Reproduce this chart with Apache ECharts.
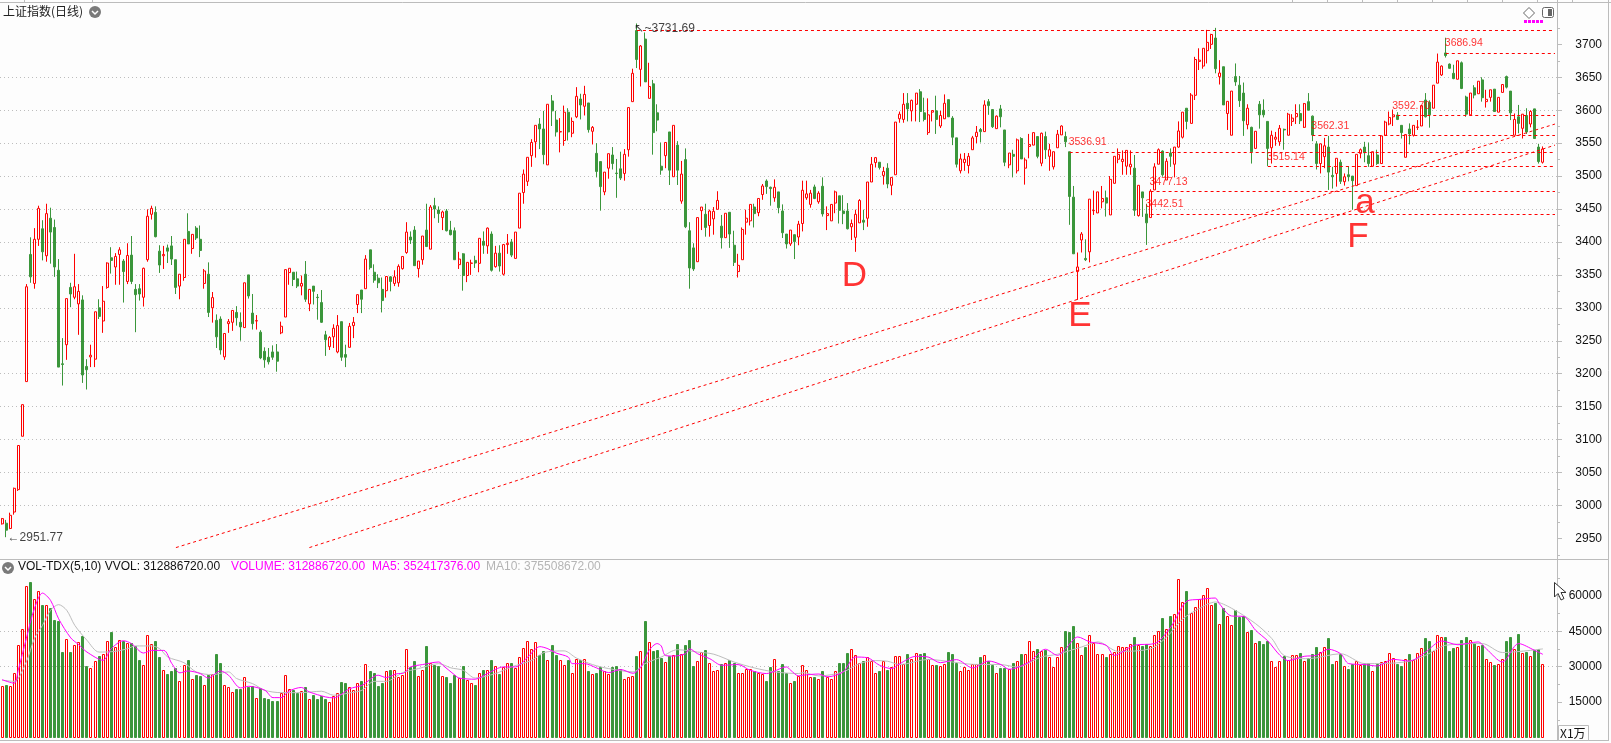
<!DOCTYPE html>
<html>
<head>
<meta charset="utf-8">
<title>上证指数(日线)</title>
<script src="https://cdn.jsdelivr.net/npm/echarts@6/dist/echarts.min.js"></script>
<style>
html,body{margin:0;padding:0;background:#fdfdfd;}
#chart{width:1611px;height:743px;}
</style>
</head>
<body>
<div id="chart"></div>
<script>
// Daily candles as [open, close, low, high]
const candles = [
[2972,2980,2971,2981],[2973,2962.5,2951.77,2978],[2965,2985,2964,2989],[2990,3026,2986,3027],[3024,3091,3022,3091],
[3105,3153,3105,3153],[3188,3332,3188,3336],[3381,3347,3338,3407],[3337,3404,3329,3421],[3404,3451,3394,3455],
[3420,3385,3372,3433],[3379,3443,3370,3458],[3436,3415,3367,3452],[3422,3362,3347,3434],[3357,3210,3210,3374],
[3215,3214,3182,3254],[3244,3314,3221,3314],[3331,3321,3301,3338],[3316,3332,3313,3382],[3306,3325,3259,3336],
[3312,3198,3186,3319],[3211,3206,3176,3222],[3225.5,3228,3210,3244],[3222,3294,3210,3294],[3300,3287,3283,3313],
[3280,3310,3262,3333],[3331,3368,3329,3369],[3376,3372,3352,3392],[3362,3378,3335,3383],[3381,3388,3335,3392],
[3371,3355,3308,3374],[3340,3379.5,3336,3398],[3380,3340,3336,3409],[3328,3320,3263,3336],[3329,3321,3311,3336],
[3316,3360,3302,3361],[3373,3439,3370,3449.5],[3442,3451,3434,3455],[3445,3408,3407,3454],[3386,3365,3353,3395],
[3379,3381,3359,3394],[3391,3386,3368,3396],[3394,3374,3365,3409],[3373,3331,3321,3373],[3333,3351,3313,3351],
[3346,3404,3341,3404],[3416,3397,3397,3443.5],[3390,3411.5,3382,3412],[3421,3406,3403,3424],[3404,3387,3377,3425],
[3337,3356,3329,3359],[3351,3293,3286,3369],[3300,3315.5,3277.5,3324],[3281,3256,3239,3290],[3283,3236,3229,3287],
[3225.5,3261,3221,3261],[3276,3279,3262,3283],[3278,3296,3265,3296],[3293,3285,3273,3302.5],[3278,3271,3250,3293],
[3270,3338,3270,3338],[3350,3318,3314,3350],[3292,3276,3267,3321],[3280,3280.5,3267,3289],[3263,3224,3222,3266],
[3234,3221,3209,3240],[3225,3218,3214,3239],[3233,3225,3221,3243],[3233,3219,3203,3245],[3262,3272,3260,3279],
[3286,3358,3286,3358],[3353.5,3360,3335,3360],[3354,3343,3333,3354],[3344,3333,3330,3355],[3333,3337,3319,3349],
[3351,3313,3309,3371],[3306,3328,3295,3328],[3333,3325,3305,3333],[3316,3315.5,3282,3321],[3308,3278,3277,3327],
[3259,3251.5,3227,3265],[3241,3255,3236,3257],[3256,3269,3239,3275],[3233,3273,3231,3289],[3279,3225,3219.5,3279],
[3229,3225,3210,3244],[3240,3272,3240,3277],[3273,3278,3254,3286],[3305,3320,3292,3320],[3327,3313,3292,3327],
[3329,3374,3329,3380],[3388,3361,3358,3388],[3354,3342,3338,3366],[3345,3338,3330,3351],[3328,3311,3293,3346],
[3326,3347.5,3315.5,3348],[3347,3340,3325,3348],[3337,3347,3333,3357],[3338,3363,3332,3366],
// second stretch
[3359.5,3378,3358,3378],[3384,3415,3382,3430],[3407.5,3403,3397,3416],[3418,3364,3364,3424],[3359.5,3371,3346,3371],
[3373,3409,3365.5,3409],[3418,3393,3393,3458],[3389,3453,3389,3456],[3455,3450,3436,3467],[3448.5,3443,3429,3454],
[3437,3445.5,3418,3447.5],[3447,3417,3416,3450],[3418,3411,3410,3432],[3417,3373,3373,3422],[3365.5,3374,3359,3385],
[3382,3349,3326,3383],[3349,3369,3339,3369],[3367.5,3368,3350,3373],[3372,3368,3360.5,3379],[3367.5,3405.5,3354,3405.5],
[3401,3395,3382,3416],[3394,3421,3382,3422],[3412,3357,3355,3416],[3362.5,3383,3361,3394],[3383,3363.5,3355,3395],
[3351,3396,3349,3397],[3396,3398,3382,3412],[3400,3380,3377,3404.5],[3375,3415,3375,3415],[3421,3474,3421,3474],
[3475,3503,3458,3510],[3492,3528.5,3485,3528.5],[3531,3551,3514,3556],[3552,3577,3528,3577],[3579,3571.5,3541,3588],
[3571.5,3532.5,3518,3599],[3517,3609,3517,3609],[3614,3599,3576,3623],[3585,3567,3560,3599],[3567,3567.5,3536,3588],
[3554,3597,3546,3607],[3597,3567,3554,3603],[3565,3583,3559,3589],[3590,3621,3588,3635],[3617,3608,3586,3625],
[3606,3624,3592,3637],[3611,3570.5,3566,3611],[3568,3574,3548,3576],[3534.5,3507,3498,3550],[3522,3484,3447.5,3522],
[3476,3506,3471,3506],[3512,3534,3496,3534],[3532,3519,3510,3544],[3504.5,3504,3467,3526],[3511,3497,3494,3537],
[3504,3533,3493,3541],[3540,3604,3529.5,3604],[3613,3656,3613,3663],[3721,3677,3664,3731.69],[3662,3697.5,3636,3699],
[3708,3643,3643,3718],[3618,3636,3618,3672],[3640,3566,3532.5,3646],[3596,3585,3568,3609],[3515,3509,3502,3551],
[3531,3551,3512,3551],[3567,3509,3486.5,3567],[3499,3577,3499,3577],[3547,3509,3486.5,3553],[3462,3503,3458,3523],
[3525,3423,3421,3542],[3417,3360.5,3329,3430],[3391,3359,3356,3398],[3370,3437,3370,3437],[3447.5,3453,3418,3453],
[3442,3422,3408,3458],[3425,3447,3408,3449],[3435,3446.5,3411,3453],[3449.5,3463,3449.5,3477],[3424,3406.5,3390,3441],
[3406.5,3443.5,3406.5,3443.5],[3445,3412,3391,3445],[3395,3369,3363.5,3417],[3355,3364.5,3346,3382],[3373,3419,3373,3422],
[3430,3436,3411,3449],[3432,3457,3425,3457],[3453,3443,3422,3458],[3444.5,3466,3439,3466],[3472,3485,3464,3488],
[3492.5,3484,3473,3495],[3483,3481,3455,3484],[3467,3483,3461,3495],[3476,3452,3443.5,3476],[3447,3414,3406,3457],
[3412,3397,3390,3412],[3397,3418,3394,3418],[3411,3400.5,3374,3411],[3407.5,3427,3395,3432],
// third stretch
[3428,3478.5,3416,3493],[3467,3473,3464,3493],[3457,3474,3452,3479],[3483.5,3466,3465,3487],[3461,3474,3458,3477],
[3484.5,3442.5,3438.5,3498],[3440,3443,3418,3454],[3432,3457,3432,3457],[3459,3476,3443.6,3478],[3470,3448,3428,3470],
[3447,3443,3427,3471],[3447,3420,3419,3459],[3423,3428,3403,3434],[3407,3442,3385,3449],[3429,3463,3429,3465],
[3433,3430,3418,3449],[3436,3491,3423,3491],[3491,3518,3491,3529],[3520.5,3528,3513,3529],[3521,3513,3510,3521],
[3501,3507,3487,3514],[3512,3488,3481.5,3519.5],[3486,3498,3471,3498],[3502,3582,3502,3582],[3587,3594,3581,3598],
[3586,3609,3581,3626],[3610.5,3602,3583,3626],[3599,3615,3583,3616],[3609,3626,3583,3626],[3628,3598,3582,3632],
[3596,3586,3583,3619],[3566,3593,3562.5,3618],[3597,3599.5,3583,3599.5],[3599,3586,3564,3622],[3576,3592,3573,3599],
[3587,3610.5,3587,3624],[3616,3590,3590,3616],[3588,3559,3547,3591],[3558,3518,3513,3558],[3508,3526,3504,3534],
[3520.5,3525.5,3508,3535],[3516,3530,3504,3535],[3540,3558,3540,3561],[3560,3566.5,3550,3576],[3570.6,3567.5,3551,3573],
[3567.5,3608,3567.5,3615],[3613,3607,3593,3617],[3601,3575,3573,3601],[3572,3591,3572,3592],[3602,3590,3574,3608],
[3570,3521,3515,3570],[3517,3535,3512,3535],[3533,3530,3498,3540],[3508,3555,3504,3557],[3557,3526,3526,3559],
[3512,3524.5,3487,3528],[3545,3548,3527,3564],[3547,3566,3547,3566],[3560,3530,3527,3560],[3519.5,3565,3515,3566],
[3560,3540,3526,3567.5],[3530,3540,3508,3549],[3514,3537,3510,3537],[3543,3563.5,3543,3570],[3562.5,3576,3562.5,3577],
[3560,3552,3544,3567.5],[3536.91,3469,3426,3536.91],[3468,3382,3382,3485],[3355,3362,3312,3384],[3403,3412,3384,3415],
[3375,3373,3371,3404],[3385,3465,3369,3465],[3447.5,3448,3441,3478],[3444,3476,3444,3476],[3461,3466,3451,3485],
[3467,3459,3438.5,3478],[3441,3495,3441,3500],[3489,3530,3489,3530],[3525.5,3533,3519.5,3542],[3522,3525.5,3502,3539],
[3515,3539,3502,3539],[3514,3518,3502,3539],[3512,3448,3439.5,3532],[3440,3486,3438.5,3486],[3476,3467,3438,3476],
[3442.51,3429,3395.5,3458],[3437,3477.13,3437,3480],[3479,3514,3479,3519.5],[3518,3540,3518,3542],[3538,3502,3499,3539],
[3494,3522.5,3494,3527],[3535,3530,3514,3542],[3518,3544,3498,3544],[3544,3568.5,3543,3583],[3559,3597,3557,3597],
[3603,3583,3571,3603],[3580,3623,3580,3626],[3622.6,3677,3615.5,3681],[3674,3676,3661,3694],
// final stretch
[3667,3694,3663,3694],[3690.4,3703,3671,3722],[3700,3715,3693,3716],[3709.6,3663,3656,3725],[3651,3656.5,3639,3676],
[3666,3608,3608,3666],[3595,3613.5,3570,3613.5],[3562,3629,3562,3629],[3651,3643,3637,3671],[3638,3614.5,3605,3652],
[3626,3584,3561,3642],[3578,3603,3571,3609],[3574,3537,3519,3575],[3542,3568,3542,3568],[3609,3593,3572,3614],
[3600,3593,3589,3616.5],[3583,3542,3515.14,3583],[3543,3562,3519,3569],[3556,3559,3546,3567],[3552,3572.5,3546,3577.5],
[3571,3570,3540,3572],[3562,3594,3562,3596],[3583,3588,3576,3594],[3590,3595,3579,3609],[3595,3584,3579,3609],
[3574,3610,3573,3611],[3613,3600,3600,3626],[3591,3562.31,3553,3592],[3549,3519,3510,3553],[3519,3549,3504,3549],
[3529.5,3546,3512,3558],[3544,3506,3479,3561],[3501,3499,3481,3514],[3504,3527,3484,3527],[3521,3492,3488,3525],
[3491.5,3499,3485.5,3504],[3502,3499,3492,3515],[3500,3493,3449,3500],[3485.5,3533,3485.5,3533],[3534.5,3540,3527,3542],
[3544,3535.5,3521,3552],[3531,3519,3514,3551],[3515,3537,3515,3537],[3532,3519,3517,3540],[3519,3561,3519,3561],
[3562,3582,3562,3584],[3579,3589,3577,3598],[3590,3593,3576,3601],[3592.7,3586,3585,3597],[3577,3566,3557,3577],
[3528.5,3563,3528.5,3563],[3571.5,3564,3548,3580],[3562,3577,3560,3577],[3574,3574.5,3570,3585],[3576,3607,3576,3607],
[3615.5,3590,3589,3626],[3612,3593,3573.5,3615],[3603,3638,3603,3638],[3641,3673,3641,3686],[3653.5,3667,3652,3668],
[3686.94,3683,3680,3710],[3670,3663.6,3663,3671],[3656,3648,3647,3669],[3647,3675,3647,3675],[3672,3633,3632,3674],
[3620,3594,3590,3622],[3593,3626,3593,3626],[3634,3623,3618,3638],[3625,3644,3625,3644],[3646,3619,3613,3650],
[3613,3616.5,3604,3631],[3619.5,3631,3613,3631],[3632,3598,3598,3632],[3597,3619.5,3597,3619.5],[3627,3639,3627,3639],
[3651,3635,3633,3652.5],[3629,3596,3585,3629],[3562,3586,3562,3595],[3590,3580,3565,3608],[3572.5,3594,3557,3594],
[3592,3567,3564,3603],[3579,3598,3574,3600],[3602,3557,3557,3602],[3544,3522,3519,3549],[3521,3541,3519,3545]
];

// Daily turnover in units of 10,000 (X1万)
const volumes = [
21700,22100,21700,27500,39300,46100,64300,66100,58800,62200,
56000,56000,54800,49600,49200,36100,41900,36100,39300,40600,
42900,30200,29300,32600,34400,35500,41000,44600,38400,41500,
40700,40200,40000,38800,32700,30900,43600,39800,40700,34000,
28800,26800,28100,29600,23800,30900,32700,25000,26400,26100,
22400,26400,27100,35300,31600,22400,21600,19300,20400,20400,
25800,21400,21700,16900,21000,16600,16200,15500,15500,18900,
26400,20700,20000,18900,19600,21300,16500,17900,16500,17500,
16500,14900,17500,18800,23400,23000,21600,20300,23000,23800,
31300,28100,27200,21700,23000,28100,28500,28800,25500,
26400,37600,29900,32300,25900,28500,38600,31700,30900,30200,
25900,25500,23000,26400,25200,30200,24300,23000,22100,27500,
28500,28500,32700,30200,27100,29900,31700,31400,29600,34000,
38100,41000,37400,40600,35100,36500,32700,39100,34800,32700,
30600,32700,27500,33100,32700,33100,28100,26800,27200,29900,
28100,26800,29900,30200,29200,25000,25500,25900,34400,36500,
49200,40300,36500,36900,33600,31900,34400,34800,39500,35500,
39100,41200,30200,32300,36100,36900,31700,28100,28500,31000,
31400,32700,31700,27200,27500,28900,29200,28300,27500,26800,
23800,29800,33400,28100,31000,27200,23300,23800,25900,
30600,28800,25500,25500,25000,28100,25500,25000,28100,31400,
31400,35700,37600,35100,31400,32300,34000,32300,27200,28100,
32600,28500,29800,34400,34400,31000,35300,33400,35700,35300,
35700,33100,30600,30600,30200,31000,36100,35300,31400,28100,
29800,28500,31000,31000,34000,34800,32300,30600,27200,29300,
29300,28900,31400,32300,35300,35300,40700,36500,37400,36500,
36900,34000,29800,34300,38200,45000,44600,47100,39900,34800,
38200,43600,40000,35300,35300,34000,35300,36100,38600,38200,
38200,39500,42400,39100,38600,39500,38600,43300,45300,50500,
45800,51300,52500,67000,57500,61900,52600,55100,58800,
60500,63500,56000,56800,47900,54700,51600,47500,53900,50900,
51300,44600,45400,39900,40700,39500,40700,32600,29800,32300,
34400,32700,34800,34800,35700,32300,33600,35300,38200,36100,
38500,42000,31000,32300,35300,30200,28900,31000,32300,30600,
31400,31400,28100,31000,31900,32300,36000,33800,31000,30200,
33400,35300,32700,35700,37800,42000,40700,36500,43300,42400,
42400,36500,37800,38200,41200,42400,41200,39900,38600,39100,
33100,31900,30600,31000,33100,40700,42400,37400,43700,35700,
36100,34400,36900,37400,31288.67
];

// Volume averages read at [candle index, value]
const ma5Points = [
[0,24500],[3,23000],[4,28500],[6,41900],[8,54600],[10,61200],[12,58100],[14,50300],[17,42200],[19,39300],
[21,36200],[25,32700],[27,37600],[30,41000],[32,39800],[35,35800],[37,36900],[40,36900],[42,31300],[44,27400],
[46,28200],[49,27100],[51,25200],[54,28200],[56,26400],[59,21000],[61,21700],[65,20000],[67,16900],[69,16900],
[71,19700],[74,21200],[76,19300],[80,17200],[82,16800],[86,20700],[89,22100],[93,26400],[95,25400],[98,27100],
[99,27100],[101,29900],[104,30900],[108,32000],[109,30600],[112,26400],[113,25200],[117,24700],[120,27100],[124,29900],
[127,29900],[130,34100],[133,38500],[135,37600],[137,35800],[140,34100],[141,31300],[144,31300],[147,29500],[150,27500],
[153,28800],[156,27200],[158,29900],[160,36900],[162,39800],[163,38800],[164,34800],[166,34500],[169,35500],[170,37600],
[172,35500],[175,33400],[178,30600],[182,30900],[185,28500],[189,27100],[194,29900],[195,28500],[197,26100],
[198,26400],[202,26900],[204,25700],[208,27800],[211,34100],[214,33800],[217,30600],[220,29200],[222,31300],[226,34400],
[229,34100],[232,31700],[236,33000],[240,29500],[244,32400],[247,30900],[249,28900],[254,32000],[258,37400],[261,34800],
[263,37600],[266,42600],[269,40500],[273,39100],[275,34800],[280,39100],[285,39800],[289,46800],[293,57800],[296,58500],
[300,59100],[301,56700],[304,51500],[307,51300],[310,45400],[313,40900],[316,34800],[318,32600],[322,34400],[325,34800],
[328,37400],[331,35500],[333,31300],[337,30900],[340,30300],[344,33100],[348,32400],[352,36200],[356,40900],[360,39300],
[365,40500],[367,37600],[371,32000],[375,39800],[379,36900],[381,35241.74]
];
const ma10Points = [
[0,24300],[3,23800],[6,32000],[8,41900],[10,47500],[12,53900],[14,56300],[16,53900],[18,47500],[21,41200],
[24,36200],[28,36500],[31,37600],[33,38800],[37,38800],[39,37600],[41,34100],[45,31700],[48,27800],[52,26600],
[56,27800],[58,25000],[62,22800],[65,20000],[69,19000],[74,19000],[79,19600],[82,17900],[86,18900],[89,20000],
[92,23800],[95,23800],[98,26400],[99,27500],[103,29200],[108,31300],[111,29500],[114,28500],[117,25200],[122,27100],
[126,29900],[131,32700],[134,36000],[139,36700],[142,33700],[146,30900],[150,29200],[156,27800],[159,31300],[163,34100],
[167,37200],[172,36200],[176,35300],[181,32000],[186,29500],[191,27800],[197,27100],[198,27500],[202,26100],[208,27800],
[212,31300],[216,32600],[219,32300],[222,30900],[229,33100],[235,32000],[240,31000],[247,30900],[251,29900],[257,34100],
[261,35300],[267,38400],[271,40500],[276,36500],[284,37600],[288,42600],[292,50300],[296,54600],[300,57400],[304,54800],
[310,48200],[314,41900],[317,34800],[323,33400],[331,35500],[337,31300],[347,32000],[352,34800],[357,39100],[366,39800],
[371,36000],[381,37550.87]
];

// Horizontal support and resistance levels: [value, first candle index]
const levelLines = [[3721,157],[3686.94,357],[3592.70,345],[3562.31,324],[3536.91,264],[3515.14,313],[3477.13,284],[3442.51,284]];
const levelEnd = 384;
// Rising trend lines: [start index, start value, end index, end value]
const trendLines = [[43,2936,384,3579],[76,2936,384,3547]];

// Price tags on the chart: [text, candle index, value]
const redTags = [['3536.91',264,3551.7],['3477.13',284,3491],['3442.51',283,3457.6],['3515.14',313,3529],['3562.31',324,3576],['3592.70',344,3606.3],['3686.94',357,3702]];
const peakTag = [['↖~3731.69',157,3724.5]];
const lowTag = [['←2951.77',1,2950.5]];
const waveLetters = [['D',208,3348.5],['E',264,3287],['a',335,3459],['F',333,3406.5]];

const priceTicks = {min:2900,max:3750,interval:50};
const volumeTicks = {min:0,max:75000,interval:15000};
const priceTickValues = [2950,3000,3050,3100,3150,3200,3250,3300,3350,3400,3450,3500,3550,3600,3650,3700];
const volumeTickValues = [15000,30000,45000,60000];

const RED='#ff0000', GREEN='#3b963b', PAPER='#fdfdfd', GRID='#bdbdbd', FRAME='#bcbcbc';
const SANS='"Liberation Sans", Arial, sans-serif';
const slots = 385;
const categories = Array.from({length:slots},(_,i)=>String(i));

const markSegments = levelLines.map(([v,s])=>[{coord:[s,v]},{coord:[levelEnd,v]}])
  .concat(trendLines.map(([a,b,c,d])=>[{coord:[a,b]},{coord:[c,d]}]));

// Text tags sit on their own canvas layer so candles never cover them
const tagSeries = (rows,color,size,offset)=>({
  type:'scatter',xAxisIndex:0,yAxisIndex:0,symbolSize:1,silent:true,zlevel:1,
  itemStyle:{color:'transparent'},
  data:rows.map(r=>({value:[r[1],r[2]],name:r[0]})),
  label:{show:true,position:'right',distance:0,offset,formatter:p=>p.name,color,fontSize:size,fontFamily:SANS}
});

const text=(x,y,str,color,size,family)=>({type:'text',left:x,top:y,silent:true,z:20,
  style:{text:str,fill:color,fontSize:size||12,fontFamily:family||SANS}});
const rule=(x1,y1,x2,y2,color)=>({type:'line',silent:true,z:15,shape:{x1,y1,x2,y2},style:{stroke:color||FRAME,lineWidth:1}});
const badge=(cx,cy)=>[
  {type:'circle',silent:true,z:20,shape:{cx,cy,r:6},style:{fill:'#7a7a7a'}},
  {type:'polyline',silent:true,z:21,shape:{points:[[cx-3,cy-1],[cx,cy+2],[cx+3,cy-1]]},style:{stroke:'#fff',lineWidth:1.5,fill:'none'}}
];

const chrome=[
  rule(0,2.5,1611,2.5),rule(1557.5,0,1557.5,741),rule(1608.5,0,1608.5,741),
  rule(0,559.5,1608,559.5),rule(0,740.5,1608,740.5),
  ...[24,92,1292,1327,1362,1397,1432,1467,1502,1537,1572].map(x=>rule(x+.5,0,x+.5,2)),
  text(3,5,'上证指数(日线)','#222',12,'"Noto Sans CJK SC"'),
  ...badge(95,12),
  ...badge(8,568),
  text(18,561,'VOL-TDX(5,10) VVOL: 312886720.00','#111',12),
  text(231,561,'VOLUME: 312886720.00','#ff00ff',12),
  text(372,561,'MA5: 352417376.00','#ff00ff',12),
  text(486,561,'MA10: 375508672.00','#b5b5b5',12),
  {type:'polygon',silent:true,z:20,shape:{points:[[1529,7.5],[1534.5,13],[1529,18.5],[1523.5,13]]},style:{fill:'#fff',stroke:'#666',lineWidth:1}},
  {type:'rect',silent:true,z:20,shape:{x:1542.5,y:7.5,width:11,height:10,r:2},style:{fill:'#fff',stroke:'#666',lineWidth:1}},
  {type:'rect',silent:true,z:21,shape:{x:1548,y:9,width:4,height:7},style:{fill:'#666'}},
  ...[0,1,2,3,4].map(k=>({type:'rect',silent:true,z:20,shape:{x:1524+k*4,y:20,width:3,height:3},style:{fill:'#ff00ff'}})),
  {type:'rect',silent:true,z:20,shape:{x:1558.5,y:725.5,width:30,height:15},style:{fill:PAPER,stroke:FRAME,lineWidth:1}},
  text(1560,727,'X1万','#111',12,'"Noto Sans CJK SC"'),
  {type:'polygon',silent:true,z:30,shape:{points:[[1554.5,582.5],[1554.5,597],[1558,593.5],[1561,600],[1564,598.5],[1561,592.5],[1566,592.5]]},style:{fill:'#fff',stroke:'#333',lineWidth:1}}
];

const dotted={show:true,lineStyle:{color:GRID,type:[1,3],width:1},showMinLine:false,showMaxLine:false};
const rightLabels={show:true,color:'#111',fontSize:12,fontFamily:SANS,align:'right',margin:45,showMinLabel:false,showMaxLabel:false,formatter:v=>String(v)};
const ticks=values=>({show:true,length:5,customValues:values,lineStyle:{color:FRAME}});
const minor={show:true,splitNumber:2,length:3,lineStyle:{color:FRAME}};

// Volume columns are snapped to whole pixels so hollow columns keep a clean 1px outline
const renderVolume=(params,api)=>{
  const i=api.value(0);
  const top=api.coord([i,api.value(1)]);
  const base=api.coord([i,0]);
  const left=Math.round(top[0]-1.5)+0.5;
  const y=Math.round(top[1])+0.5;
  const up=api.value(2)===1;
  return {type:'rect',shape:{x:left,y,width:2,height:base[1]-y},
    style:{fill:up?PAPER:GREEN,stroke:up?RED:GREEN,lineWidth:1}};
};

const chart=echarts.init(document.getElementById('chart'),null,{renderer:'canvas'});
chart.setOption({
  animation:false,
  backgroundColor:PAPER,
  tooltip:{show:false},
  grid:[
    {left:0,right:54,top:11.4,height:559.9,containLabel:false},
    {left:0,right:54,top:560.5,height:177,containLabel:false}
  ],
  xAxis:[
    {type:'category',gridIndex:0,data:categories,boundaryGap:true,show:false},
    {type:'category',gridIndex:1,data:categories,boundaryGap:true,show:false}
  ],
  yAxis:[
    {type:'value',gridIndex:0,position:'right',...priceTicks,scale:true,
      axisLine:{show:false},axisTick:ticks(priceTickValues),minorTick:minor,splitLine:dotted,axisLabel:rightLabels},
    {type:'value',gridIndex:1,position:'right',...volumeTicks,
      axisLine:{show:false},axisTick:ticks(volumeTickValues),minorTick:minor,splitLine:dotted,axisLabel:rightLabels}
  ],
  series:[
    {type:'candlestick',xAxisIndex:0,yAxisIndex:0,data:candles,barWidth:2.5,silent:true,large:false,
      itemStyle:{color:PAPER,color0:GREEN,borderColor:RED,borderColor0:GREEN,borderWidth:1},
      markLine:{silent:true,symbol:'none',animation:false,label:{show:false},
        lineStyle:{color:RED,type:[3,3],width:1},data:markSegments}},
    {type:'custom',xAxisIndex:1,yAxisIndex:1,silent:true,renderItem:renderVolume,clip:false,
      encode:{x:0,y:1},
      data:volumes.map((v,i)=>[i,v,candles[i][1]>=candles[i][0]?1:0])},
    {type:'line',xAxisIndex:1,yAxisIndex:1,data:ma10Points,smooth:0.3,symbol:'none',silent:true,z:5,lineStyle:{color:'#bdbdbd',width:1}},
    {type:'line',xAxisIndex:1,yAxisIndex:1,data:ma5Points,smooth:0.3,symbol:'none',silent:true,z:6,lineStyle:{color:'#ff00ff',width:1}},
    tagSeries(redTags,RED,10.5,[-1.5,0]),
    tagSeries(peakTag,'#111',12,[-3,0]),
    tagSeries(lowTag,'#111',12,[1,0]),
    tagSeries(waveLetters,RED,35,[-2,0])
  ],
  graphic:{elements:chrome}
});
</script>
</body>
</html>
